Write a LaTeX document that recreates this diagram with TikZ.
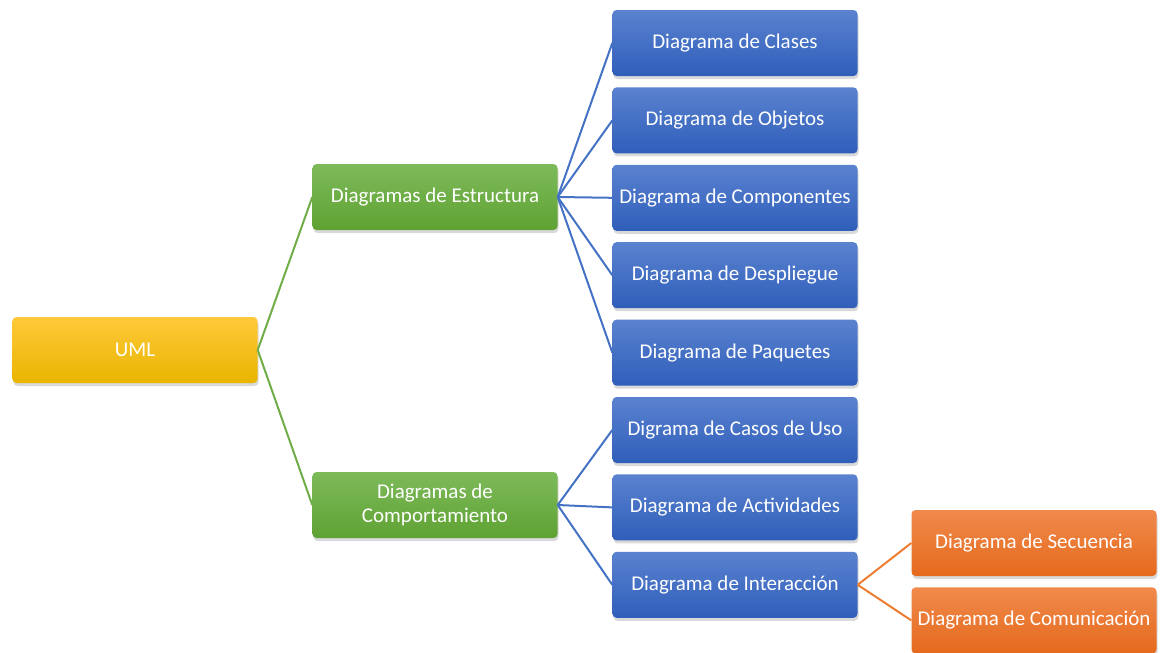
\documentclass[tikz,border=0pt]{standalone}
\usepackage{fontspec}
\setmainfont{Carlito}
\usetikzlibrary{positioning, shadows}

\definecolor{yellowtop}{HTML}{FFC93A}
\definecolor{yellowbot}{HTML}{E8B500}
\definecolor{greentop}{HTML}{7DBA5A}
\definecolor{greenbot}{HTML}{5FA233}
\definecolor{greenline}{HTML}{70AD47}
\definecolor{bluetop}{HTML}{5A82CF}
\definecolor{bluebot}{HTML}{2F5EBA}
\definecolor{blueline}{HTML}{4472C4}
\definecolor{orangetop}{HTML}{F08A4C}
\definecolor{orangebot}{HTML}{E5691C}
\definecolor{orangeline}{HTML}{ED7D31}

\begin{document}
\begin{tikzpicture}[x=1pt, y=-1pt, node distance=11pt,
    box/.style={rounded corners=4pt, minimum width=245pt, minimum height=66pt, inner sep=1pt,
        text=white, align=center, font=\fontsize{21}{24}\selectfont,
        drop shadow={shadow xshift=1pt, shadow yshift=-3pt, opacity=0.3}},
    yellowbox/.style={box, top color=yellowtop, bottom color=yellowbot},
    greenbox/.style={box, top color=greentop, bottom color=greenbot},
    bluebox/.style={box, top color=bluetop, bottom color=bluebot},
    orangebox/.style={box, top color=orangetop, bottom color=orangebot},
    link/.style={line width=2pt}]
    \useasboundingbox (0,0) rectangle (1162,653);

    \node[yellowbox] (uml) at (135,350) {UML};
    \node[greenbox] (estructura) at (435,197) {Diagramas de Estructura};
    \node[greenbox] (comportamiento) at (435,505) {Diagramas de\\Comportamiento};

    \node[bluebox] (clases) at (735,43) {Diagrama de Clases};
    \node[bluebox, below=of clases] (objetos) {Diagrama de Objetos};
    \node[bluebox, below=of objetos] (componentes) {Diagrama de Componentes};
    \node[bluebox, below=of componentes] (despliegue) {Diagrama de Despliegue};
    \node[bluebox, below=of despliegue] (paquetes) {Diagrama de Paquetes};
    \node[bluebox, below=of paquetes] (casos) {Digrama de Casos de Uso};
    \node[bluebox, below=of casos] (actividades) {Diagrama de Actividades};
    \node[bluebox, below=of actividades] (interaccion) {Diagrama de Interacción};

    \node[orangebox] (secuencia) at (1034,543) {Diagrama de Secuencia};
    \node[orangebox, below=of secuencia] (comunicacion) {Diagrama de Comunicación};

    % connectors
    \foreach \n in {estructura, comportamiento}
        \draw[link, greenline] (uml.east) -- (\n.west);
    \foreach \n in {clases, objetos, componentes, despliegue, paquetes}
        \draw[link, blueline] (estructura.east) -- (\n.west);
    \foreach \n in {casos, actividades, interaccion}
        \draw[link, blueline] (comportamiento.east) -- (\n.west);
    \foreach \n in {secuencia, comunicacion}
        \draw[link, orangeline] (interaccion.east) -- (\n.west);
\end{tikzpicture}
\end{document}
